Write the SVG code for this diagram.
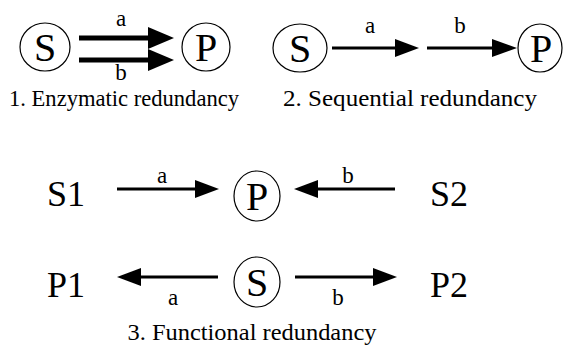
<svg xmlns="http://www.w3.org/2000/svg" width="570" height="348" viewBox="0 0 570 348">
<rect width="570" height="348" fill="#fff"/>
<g id="connectors" stroke="#000" fill="#000">
  <g stroke-width="5">
    <line x1="79" y1="38" x2="152" y2="38"/>
    <line x1="79" y1="60" x2="152" y2="60"/>
  </g>
  <g stroke-width="3">
    <line x1="332" y1="48" x2="397" y2="48"/>
    <line x1="427" y1="48" x2="494" y2="48"/>
    <line x1="117" y1="189" x2="197" y2="189"/>
    <line x1="315" y1="189" x2="395" y2="189"/>
    <line x1="138" y1="277" x2="218" y2="277"/>
    <line x1="295" y1="277" x2="375" y2="277"/>
  </g>
  <g stroke="none">
    <polygon points="148,27 174,38 148,49"/>
    <polygon points="148,49 174,60 148,71"/>
    <polygon points="395,39 419,48 395,57"/>
    <polygon points="492,39 517,48 492,57"/>
    <polygon points="195,180 219,189 195,198"/>
    <polygon points="318,180 294,189 318,198"/>
    <polygon points="141,268 117,277 141,286"/>
    <polygon points="373,268 397,277 373,286"/>
  </g>
</g>
<g id="labels">
  <text font-family="Liberation Serif" font-size="23" text-anchor="middle" x="121" y="26">a</text>
  <text font-family="Liberation Serif" font-size="23" text-anchor="middle" x="121" y="80">b</text>
  <text font-family="Liberation Serif" font-size="23" text-anchor="middle" x="370" y="33">a</text>
  <text font-family="Liberation Serif" font-size="23" text-anchor="middle" x="460" y="33">b</text>
  <text font-family="Liberation Serif" font-size="23" text-anchor="middle" x="162" y="183">a</text>
  <text font-family="Liberation Serif" font-size="23" text-anchor="middle" x="348" y="183">b</text>
  <text font-family="Liberation Serif" font-size="23" text-anchor="middle" x="173" y="305">a</text>
  <text font-family="Liberation Serif" font-size="23" text-anchor="middle" x="338" y="305">b</text>
</g>
<g id="nodes">
  <g fill="#fff" stroke="#000" stroke-width="1.2">
    <ellipse cx="45" cy="47" rx="25" ry="24"/>
    <ellipse cx="206" cy="47" rx="24" ry="24"/>
    <ellipse cx="300" cy="48" rx="27" ry="24"/>
    <ellipse cx="540" cy="48" rx="22" ry="24"/>
    <ellipse cx="257" cy="196" rx="23" ry="25"/>
    <ellipse cx="257" cy="282" rx="23" ry="25"/>
  </g>
  <g id="p1-S"><text font-family="Liberation Serif" font-size="40" text-anchor="middle" x="45" y="61">S</text></g>
  <g id="p1-P"><text font-family="Liberation Serif" font-size="40" text-anchor="middle" x="206" y="61">P</text></g>
  <g id="p2-S"><text font-family="Liberation Serif" font-size="40" text-anchor="middle" x="300" y="62">S</text></g>
  <g id="p2-P"><text font-family="Liberation Serif" font-size="40" text-anchor="middle" x="541" y="62">P</text></g>
  <g id="p3-P"><text font-family="Liberation Serif" font-size="40" text-anchor="middle" x="257" y="210">P</text></g>
  <g id="p3-S"><text font-family="Liberation Serif" font-size="40" text-anchor="middle" x="257" y="296">S</text></g>
  <g id="p3-S1"><text font-family="Liberation Serif" font-size="36" text-anchor="middle" x="66" y="206">S1</text></g>
  <g id="p3-S2"><text font-family="Liberation Serif" font-size="36" text-anchor="middle" x="449" y="206">S2</text></g>
  <g id="p3-P1"><text font-family="Liberation Serif" font-size="36" text-anchor="middle" x="66" y="297">P1</text></g>
  <g id="p3-P2"><text font-family="Liberation Serif" font-size="36" text-anchor="middle" x="449" y="297">P2</text></g>
</g>
<g id="captions">
  <text font-family="Liberation Serif" font-size="23" text-anchor="middle" x="124" y="106" textLength="230" lengthAdjust="spacingAndGlyphs">1. Enzymatic redundancy</text>
  <text font-family="Liberation Serif" font-size="23" text-anchor="middle" x="410" y="106" textLength="254" lengthAdjust="spacingAndGlyphs">2. Sequential redundancy</text>
  <text font-family="Liberation Serif" font-size="23" text-anchor="middle" x="252" y="340" textLength="249" lengthAdjust="spacingAndGlyphs">3. Functional redundancy</text>
</g>
</svg>
